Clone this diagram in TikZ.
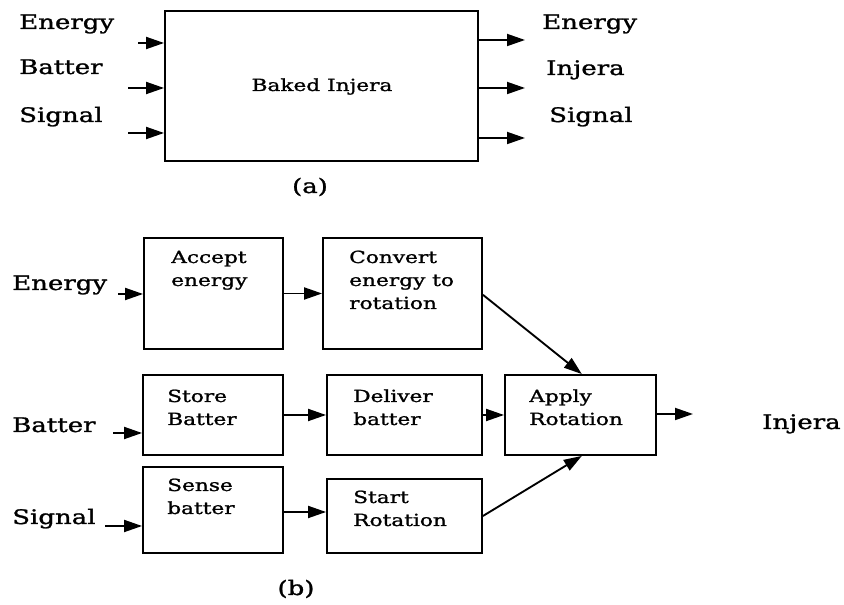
\documentclass[tikz,border=0pt]{standalone}
\usepackage{fontspec}
\setmainfont{DejaVu Serif}[FakeStretch=1.3,FakeBold=1.3]
\usetikzlibrary{arrows.meta,fit}
\begin{document}
\begin{tikzpicture}[x=0.75pt,y=-0.75pt,
  box/.style={draw, line width=1.4pt, inner sep=0pt},
  arr/.style={-{Triangle[length=13.5pt,width=9pt]}, line width=1.4pt},
  lbl/.style={font=\fontsize{15}{18}\selectfont, anchor=base west, inner sep=0pt, align=left},
  txt/.style={font=\fontsize{12.5}{17.25}\selectfont, anchor=base west, inner sep=0pt, align=left}]
\fill[white] (0,0) rectangle (844,605);
\useasboundingbox (0,0) rectangle (844,605);
% ---------- (a)
\node[box, fit={(165,11) (478,161)}] (big) {};
\node[txt, anchor=base] (bakedtxt) at (322,91) {Baked Injera};
\node[lbl] (ina) at (19,29) {Energy};
\node[lbl] (inb) at (19,74) {Batter};
\node[lbl] (inc) at (19,122) {Signal};
\node[lbl] (outa) at (542,29) {Energy};
\node[lbl] (outb) at (546,75) {Injera};
\node[lbl] (outc) at (549,122) {Signal};
\coordinate (ea) at (138,43);
\coordinate (eb) at (128,88);
\coordinate (ec) at (128,133);
\draw[arr] (ea) -- (ea -| big.west);
\draw[arr] (eb) -- (eb -| big.west);
\draw[arr] (ec) -- (ec -| big.west);
\coordinate (oa) at (525,40);
\coordinate (ob) at (525,88);
\coordinate (oc) at (525,138);
\draw[arr] (oa -| big.east) -- (oa);
\draw[arr] (ob -| big.east) -- (ob);
\draw[arr] (oc -| big.east) -- (oc);
\node[lbl, anchor=base] (capa) at (310,193) {(a)};
% ---------- (b)
\node[box, fit={(144,238) (283,349)}] (acc) {};
\node[box, fit={(323,238) (482,349)}] (conv) {};
\node[box, fit={(143,375) (283,455)}] (store) {};
\node[box, fit={(327,375) (482,455)}] (deliv) {};
\node[box, fit={(505,375) (656,455)}] (apply) {};
\node[box, fit={(143,467) (283,553)}] (sense) {};
\node[box, fit={(327,479) (482,553)}] (start) {};
\node[txt] (acctxt) at (171,286) {Accept\\energy};
\node[txt] (convtxt) at (349,309) {Convert\\energy to\\rotation};
\node[txt] (storetxt) at (167,425) {Store\\Batter};
\node[txt] (delivtxt) at (353,425) {Deliver\\batter};
\node[txt] (applytxt) at (529,425) {Apply\\Rotation};
\node[txt] (sensetxt) at (167,514) {Sense\\batter};
\node[txt] (starttxt) at (353,526) {Start\\Rotation};
\node[lbl] (lenergy) at (12,290) {Energy};
\node[lbl] (lbatter) at (12,432) {Batter};
\node[lbl] (lsignal) at (12,524) {Signal};
\node[lbl] (linjera) at (762,429) {Injera};
\coordinate (ie) at (118,294);
\coordinate (ib) at (113,433);
\coordinate (is) at (105,526);
\draw[arr] (ie) -- (ie -| acc.west);
\draw[arr] (ib) -- (ib -| store.west);
\draw[arr] (is) -- (is -| sense.west);
\draw[arr] (acc.east) -- (conv.west);
\draw[arr] (store.east) -- (deliv.west);
\draw[arr] (deliv.east) -- (apply.west);
\draw[arr] ([yshift=-1.5pt]sense.east) -- ([yshift=-1.5pt]sense.east -| start.west);
\coordinate (oi) at (693,414);
\draw[arr] (oi -| apply.east) -- (oi);
\draw[arr] ([yshift=-1pt]conv.east) -- ([xshift=1pt]apply.north);
\draw[arr] (start.east) -- ([xshift=1pt]apply.south);
\node[lbl, anchor=base] (capb) at (296,595) {(b)};
\end{tikzpicture}
\end{document}
